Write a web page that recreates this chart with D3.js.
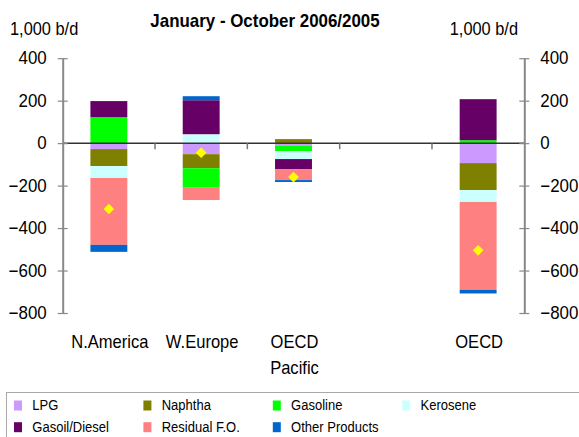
<!DOCTYPE html>
<html>
<head>
<meta charset="utf-8">
<script src="https://cdn.jsdelivr.net/npm/d3@7"></script>
<style>
  body { margin: 0; background: #fff; }
  svg { display: block; font-family: "Liberation Sans", Arial, sans-serif; }
</style>
</head>
<body>
<div id="chart"></div>
<script>
/** categories (the fourth slot is an empty gap) */
const categories = ["N.America", "W.Europe", "OECD Pacific", "", "OECD"];
const categoryLabels = [["N.America"], ["W.Europe"], ["OECD", "Pacific"], [], ["OECD"]];

/** series names and colours, in stacking order */
const seriesNames = ["LPG", "Naphtha", "Gasoline", "Kerosene", "Gasoil/Diesel", "Residual F.O.", "Other Products"];
const seriesColors = ["#cc99ff", "#808000", "#00ff00", "#ccffff", "#660066", "#ff8080", "#0066cc"];

/** changes, 1,000 b/d */
const lpg = [-28, -52, -13, 0, -94];
const naphtha = [-80, -66, 19, 0, -127];
const gasoline = [122, -89, -24, 0, 14];
const kerosene = [-56, 42, -38, 0, -56];
const gasoil = [76, 160, -47, 0, 193];
const residual = [-315, -61, -52, 0, -414];
const other = [-33, 19, -9, 0, -17];
/** net total change (yellow diamonds) */
const total = [-310, -45, -160, null, -505];

const yTicks = [400, 200, 0, -200, -400, -600, -800];

const width = 579, height = 437;
const margin = { left: 62.7, right: 55, top: 58.2, bottom: 124 };

const svg = d3.select("#chart").append("svg")
  .attr("width", width).attr("height", height);

/** text is a little narrow in the original, squeeze it horizontally */
const narrowText = (g, x, y, str, size, sx, anchor = "start", weight = "normal") =>
  g.append("text")
    .attr("transform", `translate(${x},${y}) scale(${sx},1)`)
    .attr("text-anchor", anchor)
    .attr("font-size", size)
    .attr("font-weight", weight)
    .text(str);

/** build rows for stacking */
const rows = categories.map((c, i) => ({
  key: i,
  "LPG": lpg[i], "Naphtha": naphtha[i], "Gasoline": gasoline[i],
  "Kerosene": kerosene[i], "Gasoil/Diesel": gasoil[i],
  "Residual F.O.": residual[i], "Other Products": other[i],
}));

const stacked = d3.stack()
  .keys(seriesNames)
  .offset(d3.stackOffsetDiverging)(rows);

/** scales */
const x = d3.scaleBand()
  .domain(categories.map((c, i) => i))
  .range([margin.left, width - margin.right + 0.3])
  .paddingInner(0.6)
  .paddingOuter(0.3);

const y = d3.scaleLinear()
  .domain([-800, 400])
  .range([height - margin.bottom, margin.top]);

const color = d3.scaleOrdinal().domain(seriesNames).range(seriesColors);

/** bars */
svg.append("g")
  .selectAll("g")
  .data(stacked)
  .join("g")
  .attr("fill", (d) => color(d.key))
  .selectAll("rect")
  .data((d) => d)
  .join("rect")
  .attr("x", (d) => x(d.data.key))
  .attr("width", x.bandwidth())
  .attr("y", (d) => y(Math.max(d[0], d[1])))
  .attr("height", (d) => Math.abs(y(d[0]) - y(d[1])));

/** zero line with category separators */
const x0 = x.range()[0], x1 = x.range()[1];
svg.append("line")
  .attr("x1", x0).attr("x2", x1)
  .attr("y1", y(0)).attr("y2", y(0))
  .attr("stroke", "#333").attr("stroke-width", 1.5);

svg.append("g")
  .selectAll("line")
  .data(d3.range(1, categories.length))
  .join("line")
  .attr("x1", (i) => x0 + i * x.step())
  .attr("x2", (i) => x0 + i * x.step())
  .attr("y1", y(0)).attr("y2", y(0) + 6)
  .attr("stroke", "#777").attr("stroke-width", 1.5);

/** net diamonds */
svg.append("g")
  .selectAll("path")
  .data(total.map((v, i) => ({ v, i })).filter((d) => d.v !== null))
  .join("path")
  .attr("d", d3.symbol(d3.symbolDiamond2, 72))
  .attr("transform", (d) => `translate(${x(d.i) + x.bandwidth() / 2},${y(d.v)})`)
  .attr("fill", "#ffff00");

/** y axes, ticks crossing the line */
const tickScale = 0.94;
const styleAxis = (g, side) => {
  g.select(".domain").attr("stroke", "#888").attr("stroke-width", 2);
  g.selectAll(".tick line").attr("stroke", "#888").attr("stroke-width", 1.2)
    .attr("x1", -5).attr("x2", 5);
  g.selectAll(".tick text")
    .attr("font-size", 18)
    .attr("font-family", "Liberation Sans, Arial, sans-serif")
    .attr("fill", "#000")
    .attr("x", (side * 16) / tickScale)
    .attr("transform", `scale(${tickScale},1)`);
};

svg.append("g")
  .attr("transform", `translate(${x0},0)`)
  .call(d3.axisLeft(y).tickValues(yTicks).tickSize(5).tickSizeOuter(0).tickFormat(d3.format("d")))
  .call(styleAxis, -1);

svg.append("g")
  .attr("transform", `translate(${x1},0)`)
  .call(d3.axisRight(y).tickValues(yTicks).tickSize(5).tickSizeOuter(0).tickFormat(d3.format("d")))
  .call(styleAxis, 1);

/** category labels */
const catGroup = svg.append("g");
categoryLabels.forEach((lines, i) => {
  lines.forEach((t, j) =>
    narrowText(catGroup, x(i) + x.bandwidth() / 2 + 1, 348 + j * 26, t, 18, 0.92, "middle"));
});

/** titles and units */
narrowText(svg, 265, 27, "January - October 2006/2005", 18, 0.94, "middle", "bold");
narrowText(svg, 10, 35, "1,000 b/d", 18, 0.91);
narrowText(svg, 518, 35, "1,000 b/d", 18, 0.91, "end");

/** legend */
const legend = svg.append("g");
legend.append("rect")
  .attr("x", 6.5).attr("y", 392.5)
  .attr("width", 600).attr("height", 60)
  .attr("fill", "none").attr("stroke", "#aaa");

const legendItem = legend.selectAll("g")
  .data(seriesNames)
  .join("g")
  .attr("transform", (d, i) => `translate(${14 + (i % 4) * 129.4},${400.5 + Math.floor(i / 4) * 21.7})`);
legendItem.append("rect")
  .attr("width", 8).attr("height", 10)
  .attr("fill", (d) => color(d));
legendItem.each(function (d) {
  narrowText(d3.select(this), 18.3, 9.5, d, 15.5, 0.84);
});
</script>
</body>
</html>
